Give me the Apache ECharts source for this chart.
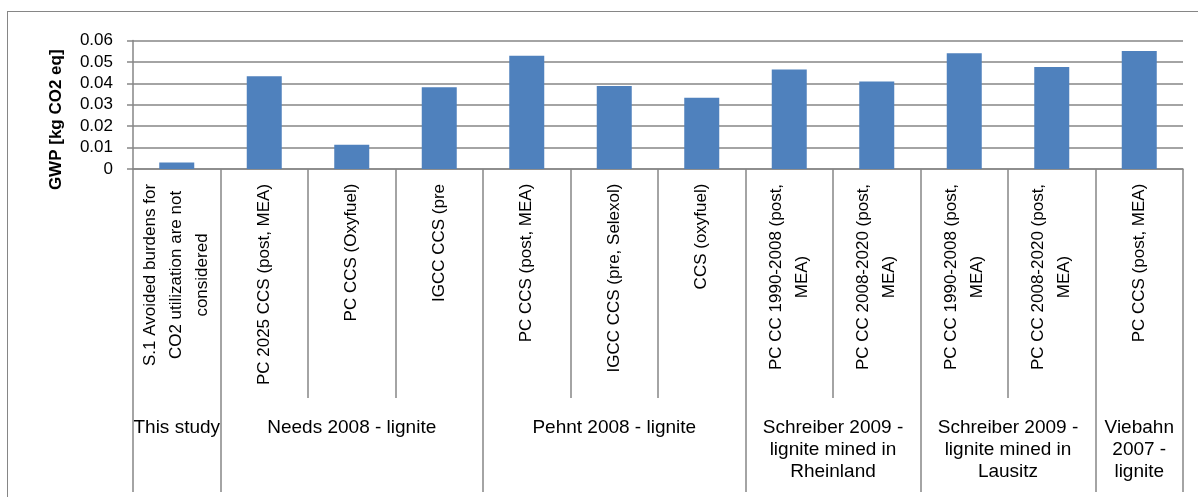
<!DOCTYPE html>
<html>
<head>
<meta charset="utf-8">
<script src="https://cdn.jsdelivr.net/npm/echarts@6/dist/echarts.min.js"></script>
<style>
  html, body { margin: 0; padding: 0; background: #fff; }
  #frame { position: absolute; left: 7px; top: 11px; width: 1200px; height: 500px; border: 1.5px solid #868686; box-sizing: border-box; }
  #chart { position: absolute; left: 0; top: 0; width: 1198px; height: 497px; }
</style>
</head>
<body>
<div id="frame"></div>
<div id="chart"></div>
<script>
// ---- data ----
const categories = [
  "S.1 Avoided burdens for\nCO2 utilization are not\nconsidered",
  "PC 2025 CCS (post, MEA)",
  "PC CCS (Oxyfuel)",
  "IGCC CCS (pre",
  "PC CCS (post, MEA)",
  "IGCC CCS (pre, Selexol)",
  "CCS (oxyfuel)",
  "PC CC 1990-2008 (post,\nMEA)",
  "PC CC 2008-2020 (post,\nMEA)",
  "PC CC 1990-2008 (post,\nMEA)",
  "PC CC 2008-2020 (post,\nMEA)",
  "PC CCS (post, MEA)"
];
const gwpValues = [0.003, 0.0433, 0.0113, 0.0382, 0.0529, 0.0388, 0.0333, 0.0465, 0.0408, 0.054, 0.0476, 0.0551];
const groupNames = [
  "This study",
  "Needs 2008 - lignite",
  "Pehnt 2008 - lignite",
  "Schreiber 2009 -\nlignite mined in\nRheinland",
  "Schreiber 2009 -\nlignite mined in\nLausitz",
  "Viebahn\n2007 -\nlignite"
];
const groupSizes = [1, 3, 3, 2, 2, 1];
const yTicks = [0, 0.01, 0.02, 0.03, 0.04, 0.05, 0.06];
const yAxisTitle = "GWP [kg CO2 eq]";

// ---- derived structures for the two-level axis (half-category slots) ----
const boundaries = [0];
groupSizes.forEach(s => boundaries.push(boundaries[boundaries.length - 1] + 2 * s));
const centers = groupNames.map((_, i) => (boundaries[i] + boundaries[i + 1]) / 2);
const nSlots = boundaries[boundaries.length - 1] + 1;
const slotLabels = [];
for (let i = 0; i < nSlots; i++) {
  const gi = centers.indexOf(i);
  slotLabels.push(gi >= 0 ? groupNames[gi] : '');
}

// measure lines for centred multi-line rotated labels
const FONT_FAMILY = "'Liberation Sans', Arial, sans-serif";
const CAT_FONT = 17;
const ctx = document.createElement('canvas').getContext('2d');
ctx.font = CAT_FONT + 'px ' + FONT_FAMILY;
const rich = {};
categories.forEach((c, i) => {
  const lines = c.split('\n');
  const w = Math.ceil(Math.max(...lines.map(l => ctx.measureText(l).width))) + 1;
  rich['c' + i] = { width: w, align: 'center', fontSize: CAT_FONT, fontFamily: FONT_FAMILY, color: '#000', lineHeight: 26 };
});

const gridCol = '#868686';
const chart = echarts.init(document.getElementById('chart'), null, { renderer: 'canvas' });
const gridRect = { left: 133, right: 15, top: 40.5, bottom: 328 };

chart.setOption({
  animation: false,
  textStyle: { fontFamily: FONT_FAMILY },
  grid: [Object.assign({}, gridRect), Object.assign({}, gridRect)],
  xAxis: [
    {
      type: 'category',
      gridIndex: 0,
      data: categories.map((_, i) => String(i)),
      axisLine: { show: true, lineStyle: { color: gridCol, width: 1.5 } },
      axisTick: { show: true, interval: 0, length: 229, lineStyle: { color: gridCol, width: 1.5 } },
      axisLabel: {
        interval: 0,
        rotate: 90,
        margin: 14,
        formatter: (v, idx) => categories[idx].split('\n').map(l => '{c' + idx + '|' + l + '}').join('\n'),
        rich: rich
      },
      splitLine: { show: false }
    },
    {
      type: 'category',
      gridIndex: 1,
      boundaryGap: false,
      data: slotLabels,
      axisLine: { show: false },
      axisTick: {
        show: true,
        interval: (idx) => boundaries.indexOf(idx) >= 0,
        length: 323,
        lineStyle: { color: gridCol, width: 1.5 }
      },
      axisLabel: {
        interval: (idx) => centers.indexOf(idx) >= 0,
        margin: 248,
        verticalAlign: 'top',
        align: 'center',
        fontSize: 19,
        lineHeight: 22,
        color: '#000'
      },
      splitLine: { show: false }
    }
  ],
  yAxis: [
    {
      type: 'value',
      gridIndex: 0,
      min: yTicks[0],
      max: yTicks[yTicks.length - 1],
      interval: yTicks[1] - yTicks[0],
      name: yAxisTitle,
      nameLocation: 'middle',
      nameGap: 68,
      nameTextStyle: { fontSize: 17, fontWeight: 'bold', color: '#000', padding: [0, 30, 0, 0] },
      axisLine: { show: true, lineStyle: { color: gridCol, width: 1.5 } },
      axisTick: { show: true, length: 6, lineStyle: { color: gridCol, width: 1.5 } },
      axisLabel: {
        margin: 20,
        fontSize: 17,
        color: '#000',
        formatter: v => (Math.abs(v) < 1e-9 ? '0' : v.toFixed(2))
      },
      splitLine: { show: true, lineStyle: { color: gridCol, width: 1.5 } }
    },
    { type: 'value', gridIndex: 1, min: 0, max: 1, show: false }
  ],
  series: [
    {
      type: 'bar',
      xAxisIndex: 0,
      yAxisIndex: 0,
      data: gwpValues,
      barWidth: '40%',
      itemStyle: { color: '#4F81BD' }
    }
  ]
});
</script>
</body>
</html>
